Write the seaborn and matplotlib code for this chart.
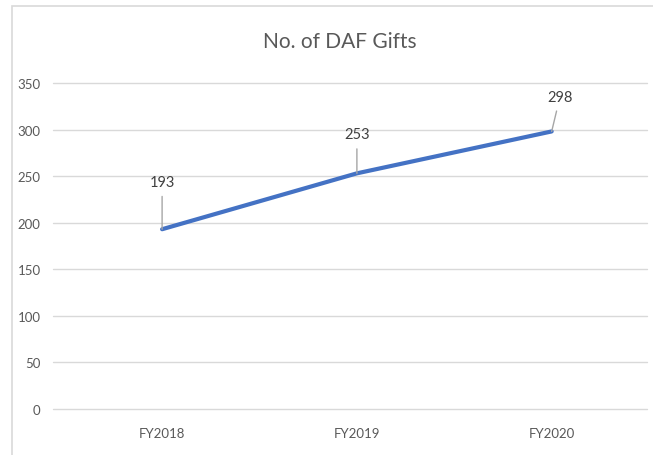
import matplotlib
matplotlib.use("Agg")
import matplotlib.pyplot as plt
import seaborn as sns
from matplotlib.patches import Rectangle

# ---------------------------------------------------------------------------
# Dados
# ---------------------------------------------------------------------------

years = ["FY2018", "FY2019", "FY2020"]
gifts = [193, 253, 298]
y_ticks = [0, 50, 100, 150, 200, 250, 300, 350]

LINE_COLOR = "#4472C4"
TEXT_COLOR = "#595959"
GRID_COLOR = "#D9D9D9"

sns.set_style("white")
plt.rcParams["font.family"] = ["Lato", "DejaVu Sans"]

fig = plt.figure(figsize=(6.53, 4.56), dpi=100)
ax = fig.add_axes([0.0812, 0.1009, 0.9098, 0.7149])

# moldura do gráfico (estilo Excel)
fig.patches.append(Rectangle((12 / 653, -0.05), 1.0, 1 - 7 / 456 + 0.05,
                             transform=fig.transFigure, fill=False,
                             edgecolor=GRID_COLOR, linewidth=1.2))

sns.lineplot(x=years, y=gifts, sort=False, color=LINE_COLOR, linewidth=3.0,
             ax=ax, solid_capstyle="round")

# rótulos de dados com linhas guia
offsets = [(0, 34), (0, 28), (6, 25)]
for i, (val, off) in enumerate(zip(gifts, offsets)):
    ax.annotate(str(val), xy=(i, val), xytext=off, textcoords="offset points",
                ha="center", va="center", fontsize=10.5, color="#404040",
                arrowprops=dict(arrowstyle="-", color="#A6A6A6", lw=1,
                                shrinkA=3, shrinkB=0))

ax.set_ylim(0, 350)
ax.set_xlim(-0.56, 2.49)
ax.set_yticks(y_ticks)
ax.yaxis.grid(True, color=GRID_COLOR, linewidth=1)
for gl in ax.get_ygridlines():
    gl.set_clip_on(False)
ax.set_axisbelow(True)
for side in ["top", "right", "left", "bottom"]:
    ax.spines[side].set_visible(False)
ax.tick_params(axis="both", length=0, labelsize=9.5, labelcolor=TEXT_COLOR)
ax.tick_params(axis="y", pad=9)
ax.tick_params(axis="x", pad=13)
ax.set_xlabel("")
ax.set_ylabel("")

fig.text(340 / 653, 1 - 42 / 456, "No. of DAF Gifts", ha="center", va="center",
         fontsize=15, color=TEXT_COLOR)

fig.savefig("out.png", dpi=100)
